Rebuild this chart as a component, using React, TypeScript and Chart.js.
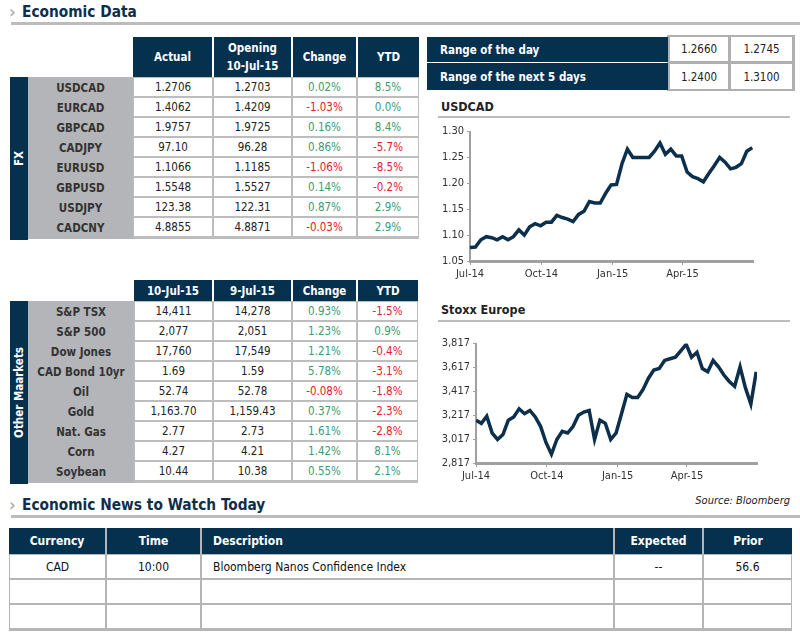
import React, { useEffect, useRef } from "react";
import { Chart, registerables } from "chart.js";

Chart.register(...registerables);

// ---------- DATA ----------
const fxPairs = ["USDCAD", "EURCAD", "GBPCAD", "CADJPY", "EURUSD", "GBPUSD", "USDJPY", "CADCNY"];
const fxActual = ["1.2706", "1.4062", "1.9757", "97.10", "1.1066", "1.5548", "123.38", "4.8855"];
const fxOpening = ["1.2703", "1.4209", "1.9725", "96.28", "1.1185", "1.5527", "122.31", "4.8871"];
const fxChange = ["0.02%", "-1.03%", "0.16%", "0.86%", "-1.06%", "0.14%", "0.87%", "-0.03%"];
const fxYtd = ["8.5%", "0.0%", "8.4%", "-5.7%", "-8.5%", "-0.2%", "2.9%", "2.9%"];
const fxHeaders = ["Actual", "Opening\n10-Jul-15", "Change", "YTD"];

const mkNames = ["S&P TSX", "S&P 500", "Dow Jones", "CAD Bond 10yr", "Oil", "Gold", "Nat. Gas", "Corn", "Soybean"];
const mkToday = ["14,411", "2,077", "17,760", "1.69", "52.74", "1,163.70", "2.77", "4.27", "10.44"];
const mkPrev = ["14,278", "2,051", "17,549", "1.59", "52.78", "1,159.43", "2.73", "4.21", "10.38"];
const mkChange = ["0.93%", "1.23%", "1.21%", "5.78%", "-0.08%", "0.37%", "1.61%", "1.42%", "0.55%"];
const mkYtd = ["-1.5%", "0.9%", "-0.4%", "-3.1%", "-1.8%", "-2.3%", "-2.8%", "8.1%", "2.1%"];
const mkHeaders = ["10-Jul-15", "9-Jul-15", "Change", "YTD"];

const rangeLabels = ["Range of the day", "Range of the next 5 days"];
const rangeLow = ["1.2660", "1.2400"];
const rangeHigh = ["1.2745", "1.3100"];

const newsHeaders = ["Currency", "Time", "Description", "Expected", "Prior"];
const newsRows = [
  ["CAD", "10:00", "Bloomberg Nanos Confidence Index", "--", "56.6"],
  ["", "", "", "", ""],
  ["", "", "", "", ""],
];

// weekly observations starting 1-Jul-2014
const usdcadWeekly = [
  1.076, 1.077, 1.091, 1.097, 1.095, 1.091, 1.097, 1.091, 1.097, 1.110,
  1.100, 1.116, 1.122, 1.118, 1.125, 1.125, 1.138, 1.134, 1.131, 1.126,
  1.140, 1.146, 1.165, 1.162, 1.162, 1.181, 1.197, 1.198, 1.238, 1.266,
  1.250, 1.250, 1.250, 1.250, 1.262, 1.278, 1.256, 1.266, 1.253, 1.253,
  1.222, 1.213, 1.209, 1.203, 1.219, 1.234, 1.250, 1.241, 1.228, 1.231,
  1.238, 1.262, 1.269,
];
const stoxxWeekly = [
  3176, 3149, 3209, 3068, 3014, 3055, 3176, 3203, 3271, 3230,
  3257, 3203, 3122, 2987, 2890, 3014, 3082, 3068, 3122, 3217,
  3244, 3257, 3014, 3176, 3149, 3014, 3068, 3230, 3392, 3365,
  3365, 3433, 3527, 3595, 3608, 3676, 3690, 3703, 3757, 3811,
  3703, 3744, 3608, 3581, 3676, 3622, 3554, 3500, 3460, 3622,
  3446, 3311, 3581,
];
const xTickDays = [0, 92, 184, 274];
const xTickLabels = ["Jul-14", "Oct-14", "Jan-15", "Apr-15"];
const usdcadTicks = [1.05, 1.1, 1.15, 1.2, 1.25, 1.3];
const stoxxTicks = [2817, 3017, 3217, 3417, 3617, 3817];

// ---------- STYLE ----------
const FONT = '"DejaVu Sans Condensed", "Liberation Sans", sans-serif';
const NAVY = "#05314f";
const GRAYCOL = "#b4b5b8";
const LINEGRAY = "#bdbdbd";
const GREEN = "#3d9b73";
const RED = "#e5202a";
const TEXT = "#333";

const abs = (l: number, t: number, w: number, h: number, extra: any = {}) => ({
  position: "absolute" as const,
  left: l,
  top: t,
  width: w,
  height: h,
  boxSizing: "border-box" as const,
  ...extra,
});

const center = {
  display: "flex",
  alignItems: "center",
  justifyContent: "center",
  textAlign: "center" as const,
};

function LineChart(props: {
  left: number; top: number; width: number; height: number;
  values: number[]; yTicks: number[]; yFmt: (v: number) => string;
  yAxisWidth: number; padTop: number; padRight: number; xAxisHeight: number;
}) {
  const ref = useRef<HTMLCanvasElement>(null);
  useEffect(() => {
    const { values, yTicks, yFmt } = props;
    const chart = new Chart(ref.current!, {
      type: "line",
      data: {
        datasets: [
          {
            data: values.map((v, i) => ({ x: i * 7, y: v })),
            borderColor: "#0c2f4b",
            borderWidth: 3.5,
            pointRadius: 0,
            tension: 0,
            fill: false,
          },
        ],
      },
      options: {
        animation: false,
        responsive: false,
        plugins: { legend: { display: false }, tooltip: { enabled: false } },
        layout: { padding: { left: 0, right: props.padRight, top: props.padTop, bottom: 0 } },
        scales: {
          x: {
            type: "linear",
            min: 0,
            max: 365,
            afterBuildTicks: (s: any) => {
              s.ticks = xTickDays.map((v) => ({ value: v }));
            },
            afterFit: (s: any) => {
              s.height = props.xAxisHeight;
            },
            ticks: {
              autoSkip: false,
              maxRotation: 0,
              padding: 3,
              color: TEXT,
              font: { family: FONT, size: 11 },
              callback: (v: any) => {
                const i = xTickDays.indexOf(Number(v));
                return i >= 0 ? xTickLabels[i] : "";
              },
            },
            grid: { drawOnChartArea: false, drawTicks: true, tickLength: 4, color: "#a0a0a0" },
            border: { color: "#a0a0a0", width: 3 },
          },
          y: {
            min: yTicks[0],
            max: yTicks[yTicks.length - 1],
            afterBuildTicks: (s: any) => {
              s.ticks = yTicks.map((v) => ({ value: v }));
            },
            afterFit: (s: any) => {
              s.width = props.yAxisWidth;
            },
            ticks: {
              padding: 3,
              color: TEXT,
              font: { family: FONT, size: 11 },
              callback: (v: any) => yFmt(Number(v)),
            },
            grid: { drawOnChartArea: false, drawTicks: true, tickLength: 3, color: "#a0a0a0" },
            border: { color: "#a0a0a0", width: 2 },
          },
        },
      },
    } as any);
    return () => chart.destroy();
  }, []);
  return (
    <div style={abs(props.left, props.top, props.width, props.height)}>
      <canvas ref={ref} width={props.width} height={props.height} style={{ display: "block" }} />
    </div>
  );
}

function SectionTitle({ left, top, text, lineTop }: { left: number; top: number; text: string; lineTop: number }) {
  return (
    <>
      <div style={abs(left - 13, top, 12, 20, { color: "#b0b0b0", fontSize: 18, fontWeight: 700, lineHeight: "20px", fontFamily: FONT })}>›</div>
      <div style={abs(left, top, 400, 20, { color: "#0d2f4a", fontSize: 15.3, fontWeight: 700, lineHeight: "20px", fontFamily: FONT, whiteSpace: "nowrap" })}>{text}</div>
      <div style={abs(11, lineTop, 789, 3, { background: "#bcbcbc" })} />
    </>
  );
}

function DataTable(props: {
  headers: string[]; headerTop: number; headerH: number; cols: number[]; rowTop: number; rowH: number;
  names: string[]; c1: string[]; c2: string[]; c3: string[]; c4: string[]; side: string;
}) {
  const { cols, rowTop, rowH, names } = props;
  const n = names.length;
  const els: any[] = [];
  props.headers.forEach((h, j) => {
    const l = cols[j] + (j > 0 ? 1 : 0);
    const w = cols[j + 1] - cols[j] - (j > 0 ? 1 : 0) - (j < props.headers.length - 1 ? 1 : 0);
    els.push(
      <div key={"h" + j} style={abs(l, props.headerTop, w, props.headerH, { ...center, background: NAVY, color: "#fff", fontWeight: 700, fontSize: 11.5, lineHeight: "18px", whiteSpace: "pre" })}>
        {h}
      </div>
    );
  });
  const totalH = n * rowH + 2;
  els.push(<div key="bg" style={abs(cols[0], rowTop, cols[4] - cols[0], totalH, { background: LINEGRAY })} />);
  els.push(<div key="lab" style={abs(28, rowTop, cols[0] - 28, totalH, { background: GRAYCOL })} />);
  els.push(
    <div key="side" style={abs(10, rowTop, 18, totalH + 1, { ...center, background: NAVY })}>
      <span style={{ writingMode: "vertical-rl", transform: "rotate(180deg)", color: "#fff", fontWeight: 700, fontSize: 11.5, whiteSpace: "nowrap" }}>{props.side}</span>
    </div>
  );
  const colsData = [props.c1, props.c2, props.c3, props.c4];
  names.forEach((name, i) => {
    const t = rowTop + i * rowH;
    els.push(
      <div key={"n" + i} style={abs(28, t + 1, cols[0] - 28, rowH, { ...center, color: TEXT, fontWeight: 700, fontSize: 11.5 })}>{name}</div>
    );
    colsData.forEach((arr, j) => {
      const v = arr[i];
      const color = j < 2 ? "#222" : v.startsWith("-") ? RED : GREEN;
      els.push(
        <div key={"c" + i + "-" + j} style={abs(cols[j] + 1, t + 1, cols[j + 1] - cols[j] - 2, rowH - 2, { ...center, background: "#fff", color, fontSize: 11.5 })}>
          {v}
        </div>
      );
    });
  });
  return <>{els}</>;
}

export default function App() {
  const newsCols = [9, 106, 201, 614, 703, 792];
  const newsHeaderTop = 528;
  const newsRowTop = 554;
  const newsRowH = 25;
  return (
    <div style={{ position: "absolute", left: 0, top: 0, width: 800, height: 638, background: "#fff", fontFamily: FONT, overflow: "hidden" }}>
      <SectionTitle left={22} top={2} text="Economic Data" lineTop={22} />

      <DataTable
        headers={fxHeaders} headerTop={37} headerH={40} cols={[133, 213, 292, 357, 419]}
        rowTop={77} rowH={20} names={fxPairs} c1={fxActual} c2={fxOpening} c3={fxChange} c4={fxYtd} side="FX"
      />
      <DataTable
        headers={mkHeaders} headerTop={280} headerH={21} cols={[134, 213, 292, 357, 418]}
        rowTop={301} rowH={20} names={mkNames} c1={mkToday} c2={mkPrev} c3={mkChange} c4={mkYtd} side="Other Maarkets"
      />

      {/* Range table */}
      <div style={abs(667, 35, 128, 56, { background: "#b0b0b0" })} />
      {rangeLabels.map((lab, i) => {
        const t = i === 0 ? 37 : 63;
        const h = i === 0 ? 25 : 27;
        return (
          <React.Fragment key={"r" + i}>
            <div style={abs(427, t, 241, h, { background: NAVY, color: "#fff", fontWeight: 700, fontSize: 11.5, display: "flex", alignItems: "center", paddingLeft: 13 })}>{lab}</div>
            <div style={abs(670, t + (i === 0 ? 0 : 1), 58, i === 0 ? 24 : 25, { ...center, background: "#fff", color: "#222", fontSize: 11.5 })}>{rangeLow[i]}</div>
            <div style={abs(731, t + (i === 0 ? 0 : 1), 61, i === 0 ? 24 : 25, { ...center, background: "#fff", color: "#222", fontSize: 11.5 })}>{rangeHigh[i]}</div>
          </React.Fragment>
        );
      })}

      {/* USDCAD chart */}
      <div style={abs(441, 99, 200, 16, { color: "#222", fontWeight: 700, fontSize: 12.5, lineHeight: "16px" })}>USDCAD</div>
      <div style={abs(438, 116, 352, 2, { background: "#bcbcbc" })} />
      <LineChart
        left={436} top={122} width={324} height={165}
        values={usdcadWeekly} yTicks={usdcadTicks} yFmt={(v) => v.toFixed(2)}
        yAxisWidth={34} padTop={5} padRight={7} xAxisHeight={26}
      />

      {/* Stoxx chart */}
      <div style={abs(441, 302, 200, 16, { color: "#222", fontWeight: 700, fontSize: 12.5, lineHeight: "16px" })}>Stoxx Europe</div>
      <div style={abs(438, 320, 352, 2, { background: "#bcbcbc" })} />
      <LineChart
        left={436} top={334} width={328} height={155}
        values={stoxxWeekly} yTicks={stoxxTicks} yFmt={(v) => v.toLocaleString("en-US")}
        yAxisWidth={40} padTop={6} padRight={7} xAxisHeight={26}
      />
      <div style={abs(640, 494, 150, 14, { color: "#222", fontStyle: "italic", fontSize: 11, textAlign: "right", lineHeight: "14px" })}>Source: Bloomberg</div>

      <SectionTitle left={22} top={495} text="Economic News to Watch Today" lineTop={515} />

      {/* News table */}
      <div style={abs(newsCols[0], newsHeaderTop, newsCols[5] - newsCols[0], newsRowTop - newsHeaderTop + newsRows.length * newsRowH + 2, { background: "#b5b5b5" })} />
      {newsHeaders.map((h, j) => {
        const l = newsCols[j] + (j > 0 ? 1 : 0);
        const w = newsCols[j + 1] - newsCols[j] - (j > 0 ? 1 : 0) - (j < 4 ? 1 : 0);
        return (
          <div key={"nh" + j} style={abs(l, newsHeaderTop, w, newsRowTop - newsHeaderTop, { ...center, justifyContent: j === 2 ? "flex-start" : "center", paddingLeft: j === 2 ? 11 : 0, background: NAVY, color: "#fff", fontWeight: 700, fontSize: 12 })}>
            {h}
          </div>
        );
      })}
      {newsRows.map((row, i) =>
        row.map((v, j) => (
          <div key={"nr" + i + "-" + j} style={abs(newsCols[j] + 1, newsRowTop + i * newsRowH + 1, newsCols[j + 1] - newsCols[j] - 2, newsRowH - 2, { ...center, justifyContent: j === 2 ? "flex-start" : "center", paddingLeft: j === 2 ? 11 : 0, background: "#fff", color: "#111", fontSize: 12 })}>
            {v}
          </div>
        ))
      )}
    </div>
  );
}
